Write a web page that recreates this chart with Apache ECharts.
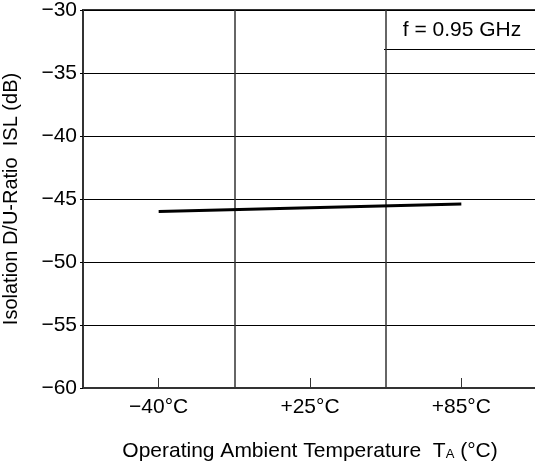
<!DOCTYPE html>
<html>
<head>
<meta charset="utf-8">
<script src="https://cdn.jsdelivr.net/npm/echarts@6/dist/echarts.min.js"></script>
<style>
  html, body { margin: 0; padding: 0; background: #fff; }
  #chart { width: 535px; height: 467px; }
</style>
</head>
<body>
<div id="chart"></div>
<script>
// temperatures on the x axis
var categories = ['−40°C', '+25°C', '+85°C'];
// isolation in dB at f = 0.95 GHz
var islValues = [-46.0, -45.7, -45.4];
var yMin = -60, yMax = -30, yStep = 5;
var noteText = 'f = 0.95 GHz';

var FONT = '"Liberation Sans", Arial, Helvetica, sans-serif';

var myChart = echarts.init(document.getElementById('chart'));

var option = {
    backgroundColor: '#fff',
    animation: false,
    grid: {
        left: 83,
        right: -2,
        top: 10,
        bottom: 79,
        outerBoundsMode: 'none',
        containLabel: false,
        show: true,
        borderColor: '#333',
        borderWidth: 2
    },
    xAxis: {
        type: 'category',
        data: categories,
        boundaryGap: true,
        name: '{n|Operating Ambient Temperature  T}{s|A}{n| (°C)}',
        nameLocation: 'middle',
        nameGap: 53,
        nameTextStyle: {
            rich: {
                n: { fontFamily: FONT, fontSize: 21, color: '#000' },
                s: { fontFamily: FONT, fontSize: 13, color: '#000', verticalAlign: 'bottom', padding: [0, 0, 1, 0] }
            }
        },
        axisLine: { lineStyle: { color: '#333', width: 2 } },
        axisTick: { show: true, alignWithLabel: true, inside: true, length: 10, lineStyle: { color: '#333', width: 1 } },
        axisLabel: { fontFamily: FONT, fontSize: 21, color: '#000', margin: 9 },
        splitLine: { show: true, lineStyle: { color: '#333', width: 1.5 } }
    },
    yAxis: {
        type: 'value',
        min: yMin,
        max: yMax,
        interval: yStep,
        name: 'Isolation D/U-Ratio  ISL (dB)',
        nameLocation: 'middle',
        nameGap: 62,
        nameTextStyle: { fontFamily: FONT, fontSize: 20, color: '#000' },
        axisLine: { show: true, lineStyle: { color: '#333', width: 2 } },
        axisTick: { show: true, length: 3, lineStyle: { color: '#000' } },
        axisLabel: {
            fontFamily: FONT, fontSize: 21, color: '#000', margin: 6,
            formatter: function (v) { return String(v).replace('-', '−'); }
        },
        splitLine: { show: true, lineStyle: { color: '#000', width: 1 } }
    },
    series: [{
        type: 'line',
        data: islValues,
        symbol: 'none',
        lineStyle: { color: '#000', width: 3 }
    }],
    graphic: [
        {
            type: 'line',
            shape: { x1: 384, y1: 49.5, x2: 535, y2: 49.5 },
            style: { stroke: '#000', lineWidth: 1 }
        },
        {
            type: 'text',
            x: 462,
            y: 30,
            style: {
                text: noteText,
                font: '21px ' + FONT,
                fill: '#000',
                textAlign: 'center',
                textVerticalAlign: 'middle'
            }
        }
    ]
};

myChart.setOption(option);
</script>
</body>
</html>
